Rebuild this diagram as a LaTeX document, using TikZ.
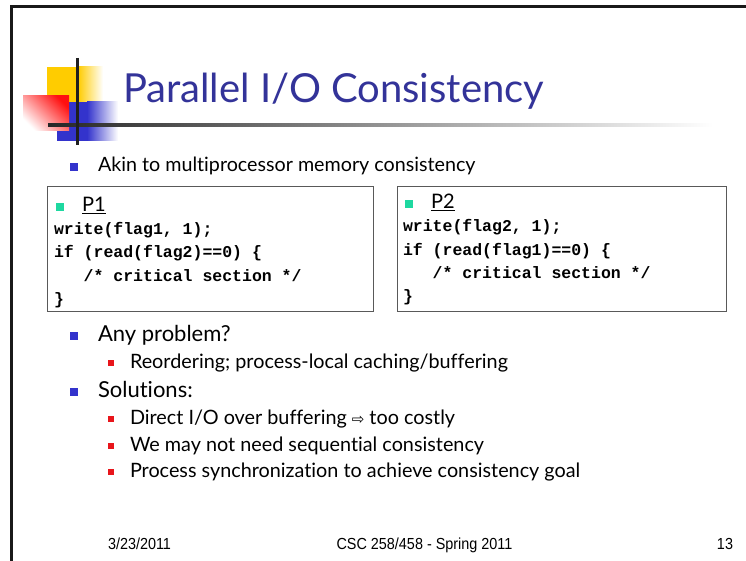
\documentclass[tikz,border=0pt]{standalone}
\usepackage{fontspec}
\setmainfont{Lato}[Ligatures={NoCommon,NoRare}]
\newfontfamily\codefont{Liberation Mono}
\newfontfamily\footfont[FakeStretch=0.9]{Liberation Sans}
\newfontfamily\symfont{DejaVu Sans}
\definecolor{titleblue}{HTML}{333399}
\definecolor{bulblue}{HTML}{3333CC}
\definecolor{bulred}{HTML}{E8151B}
\definecolor{bulteal}{HTML}{1ED8A0}
\definecolor{decoyellow}{HTML}{FFCC00}
\definecolor{decored}{HTML}{FF1010}
\begin{document}
\begin{tikzpicture}[x=1pt,y=-1pt,
  txt/.style={anchor=base west,inner sep=0pt,outer sep=0pt},
  titletxt/.style={txt,text=titleblue,font=\fontsize{40}{40}\selectfont},
  lone/.style={txt,font=\fontsize{22}{22}\selectfont},
  lakin/.style={txt,font=\fontsize{19.7}{19.7}\selectfont},
  ltwo/.style={txt,font=\fontsize{19.8}{19.8}\selectfont},
  plabel/.style={txt,font=\fontsize{20}{20}\selectfont},
  codetxt/.style={txt,font=\codefont\bfseries\fontsize{16.5}{16.5}\selectfont},
  foottxt/.style={inner sep=0pt,outer sep=0pt,font=\footfont\fontsize{16}{16}\selectfont},
  bulone/.style={fill=bulblue,inner sep=0pt,minimum size=7.5pt},
  bulbox/.style={fill=bulteal,inner sep=0pt,minimum size=7.5pt},
  bultwo/.style={fill=bulred,inner sep=0pt,minimum size=5.5pt},
  codebox/.style={draw=black!65,line width=1.3pt,inner sep=0pt,anchor=north west,fill=white}
]
\useasboundingbox (0,0) rectangle (746,561);
\fill[white] (0,0) rectangle (746,561);
% frame
\draw[line width=3pt,black!90] (11,561) -- (11,6.5) -- (746,6.5);
% decoration
\fill[decoyellow] (47,67) rectangle (78,102);
\shade[left color=decoyellow,right color=white] (78,67) rectangle (103,102);
\fill[bulblue] (57,102) rectangle (87,141);
\shade[left color=bulblue,right color=white] (87,102) rectangle (118,141);
\shade[top color=decored,bottom color=white,shading angle=-45] (23,96) rectangle (69,131);
\shade[left color=black!85,right color=white] (48,123.5) rectangle (713,126.5);
\draw[line width=3pt,black!88] (77,58) -- (77,145);
% title
\node[titletxt] (title) at (123,103) {Parallel I/O Consistency};
% first bullet
\node[bulone] (b0) at (74,167) {};
\node[lakin] (akin) at (98,172) {Akin to multiprocessor memory consistency};
% boxes
\node[codebox,minimum width=326pt,minimum height=125pt] (box1) at (47,186) {};
\node[codebox,minimum width=329pt,minimum height=125pt] (box2) at (397,186) {};
\node[bulbox] (bp1) at (60,207) {};
\node[plabel] (p1) at (82,212) {\underline{P1}};
\node[codetxt] (c11) at (54,235) {write(flag1, 1);};
\node[codetxt] (c12) at (54,258) {if (read(flag2)==0) \{};
\node[codetxt] (c13) at (83.7,281) {/* critical section */};
\node[codetxt] (c14) at (54,304) {\}};
\node[bulbox] (bp2) at (409,204) {};
\node[plabel] (p2) at (431,209) {\underline{P2}};
\node[codetxt] (c21) at (403,232) {write(flag2, 1);};
\node[codetxt] (c22) at (403,255) {if (read(flag1)==0) \{};
\node[codetxt] (c23) at (432.7,278) {/* critical section */};
\node[codetxt] (c24) at (403,301) {\}};
% lower bullets
\node[bulone] (b1) at (74,336) {};
\node[lone] (any) at (98,341) {Any problem?};
\node[bultwo] (b11) at (111,363) {};
\node[ltwo] (reo) at (130,368) {Reordering; process-local caching/buffering};
\node[bulone] (b2) at (74,392) {};
\node[lone] (sol) at (98,397) {Solutions:};
\node[bultwo] (b21) at (111,419) {};
\node[ltwo] (dir) at (130,424) {Direct I/O over buffering {\symfont\fontsize{15}{15}\selectfont ⇨} too costly};
\node[bultwo] (b22) at (111,446) {};
\node[ltwo] (wem) at (130,451) {We may not need sequential consistency};
\node[bultwo] (b23) at (111,472) {};
\node[ltwo] (pro) at (130,477) {Process synchronization to achieve consistency goal};
% footer
\node[foottxt,anchor=base west] (date) at (108,549) {3/23/2011};
\node[foottxt,anchor=base] (course) at (424.5,549) {CSC 258/458 - Spring 2011};
\node[foottxt,anchor=base east] (page) at (733,549) {13};
\end{tikzpicture}
\end{document}
